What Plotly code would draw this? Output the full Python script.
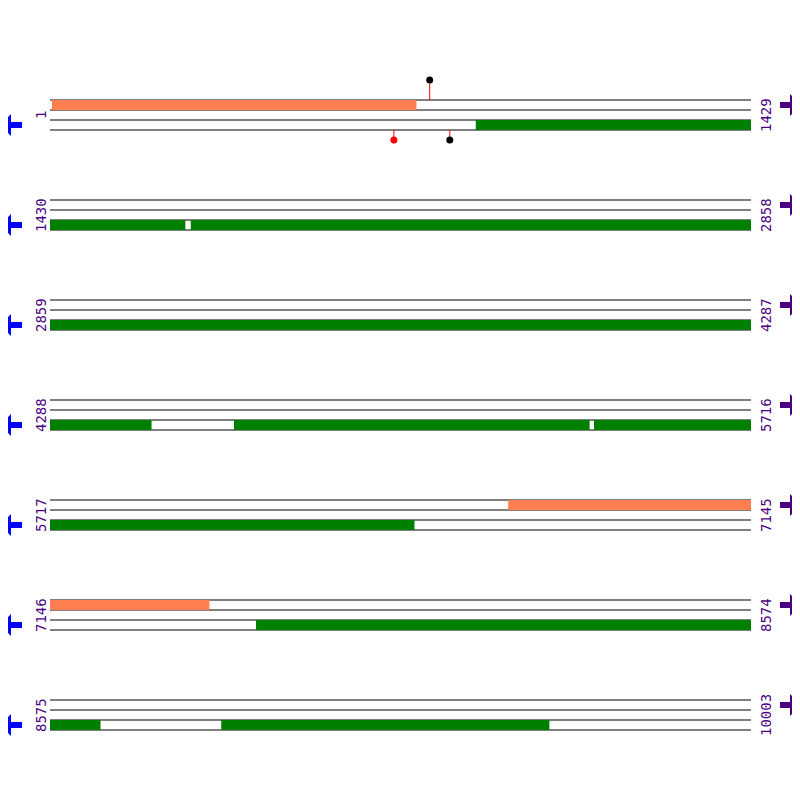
import plotly.graph_objects as go

row_len = 1429
row_starts = [1, 1430, 2859, 4288, 5717, 7146, 8575]
row_ends = [1429, 2858, 4287, 5716, 7145, 8574, 10003]

# features on the upper strand (orange) and lower strand (green), in bases
upper_feats = [(5, 747), (6651, 7145), (7146, 7470)]
lower_feats = [(869, 1429), (1430, 1705), (1717, 2858), (2859, 4287),
               (4288, 4494), (4663, 5387), (5397, 5716), (5717, 6459),
               (7566, 8574), (8575, 8677), (8924, 9592)]
# lollipop sites: (base, strand, color)
sites = [(775, "up", "black"), (702, "down", "red"), (816, "down", "black")]

k = row_len / 701  # bases per pixel


def px(p):
    return (p - 50) * k


fig = go.Figure()
shapes = []
ann = []
lab_font = dict(family="DejaVu Sans Mono", size=14, color="#4b0082")


def row_of(b):
    return (b - 1) // row_len


for r, (s, e) in enumerate(zip(row_starts, row_ends)):
    y = 100 + 100 * r
    for yy in (y, y + 10, y + 20, y + 30):
        shapes.append(dict(type="line", x0=0, x1=row_len, y0=yy, y1=yy,
                           line=dict(color="black", width=1), layer="below"))
    ann.append(dict(x=px(41), y=y + 15, text=str(s), textangle=-90, showarrow=False,
                    xanchor="center", font=lab_font))
    ann.append(dict(x=px(766), y=y + 15, text=str(e), textangle=-90, showarrow=False,
                    xanchor="center", font=lab_font))
    # strand arrows
    cy = y + 25
    shapes.append(dict(type="path", fillcolor="blue", line=dict(width=0),
                       path=f"M {px(0)},{cy} L {px(11)},{cy-11} L {px(11)},{cy-3} L {px(22)},{cy-3} "
                            f"L {px(22)},{cy+3} L {px(11)},{cy+3} L {px(11)},{cy+11} Z"))
    cy = y + 5
    shapes.append(dict(type="path", fillcolor="#4b0082", line=dict(width=0),
                       path=f"M {px(801)},{cy} L {px(790)},{cy-11} L {px(790)},{cy-3} L {px(780)},{cy-3} "
                            f"L {px(780)},{cy+3} L {px(790)},{cy+3} L {px(790)},{cy+11} Z"))


def add_feat(a, b, off, color):
    r = row_of(a)
    y = 100 + 100 * r + off
    shapes.append(dict(type="rect", x0=a - row_starts[r], x1=b - row_starts[r] + 1, y0=y, y1=y + 10,
                       line=dict(width=0), fillcolor=color))


for a, b in upper_feats:
    add_feat(a, b, 0, "#ff7f50")
for a, b in lower_feats:
    add_feat(a, b, 20, "#008000")

for b, strand, col in sites:
    r = row_of(b)
    x = b - row_starts[r]
    y = 100 + 100 * r
    ys = [y, y - 20] if strand == "up" else [y + 30, y + 40]
    fig.add_trace(go.Scatter(x=[x, x], y=ys, mode="lines", line=dict(color="red", width=1),
                             hoverinfo="skip"))
    fig.add_trace(go.Scatter(x=[x], y=[ys[1]], mode="markers", marker=dict(color=col, size=7),
                             hoverinfo="skip"))

fig.update_layout(width=800, height=800, margin=dict(l=0, r=0, t=0, b=0),
                  paper_bgcolor="white", plot_bgcolor="white", showlegend=False,
                  shapes=shapes, annotations=ann)
# page body margin shifts the plot by 8px, so offset the ranges
fig.update_xaxes(range=[px(8), px(808)], visible=False)
fig.update_yaxes(range=[808, 8], visible=False)
fig.write_html("out.html")
